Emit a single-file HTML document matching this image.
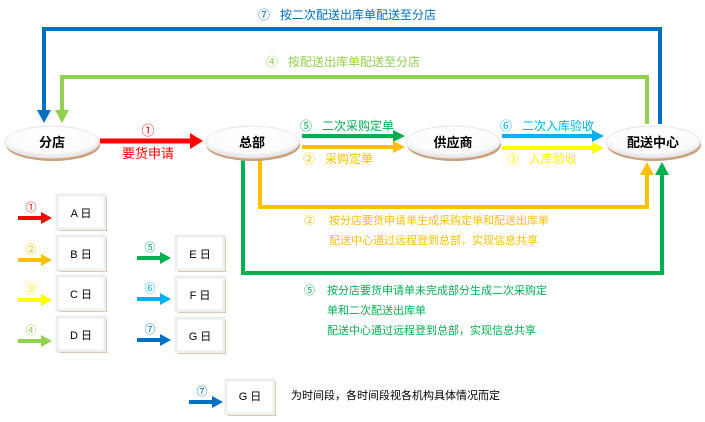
<!DOCTYPE html>
<html><head><meta charset="utf-8">
<style>
html,body{margin:0;padding:0;background:#fff;}
svg{display:block;}
text{font-family:"Liberation Sans","Noto Sans CJK SC","WenQuanYi Zen Hei",sans-serif;}
</style></head>
<body>
<svg width="705" height="422" viewBox="0 0 705 422" xmlns="http://www.w3.org/2000/svg">
<defs>
<radialGradient id="eg" cx="50%" cy="35%" r="60%">
<stop offset="0" stop-color="#ffffff"/><stop offset="0.8" stop-color="#fbfbfb"/><stop offset="1" stop-color="#e8e8e8"/>
</radialGradient>
</defs>

<!-- top blue loop -->
<polyline points="44,112 44,29 660,29 660,124" fill="none" stroke="#0070c0" stroke-width="4"/>
<polygon points="37,110 51,110 44,123" fill="#0070c0"/>
<text x="258" y="19" font-size="12" fill="#0070c0">⑦&#160;&#160;&#160;按二次配送出库单配送至分店</text>

<!-- light green loop -->
<polyline points="62,112 62,77 647,77 647,124" fill="none" stroke="#92d050" stroke-width="4"/>
<polygon points="55,110 69,110 62,123" fill="#92d050"/>
<text x="266" y="66" font-size="12" fill="#92d050">④&#160;&#160;&#160;按配送出库单配送至分店</text>

<!-- orange loop -->
<polyline points="260,160 260,207 647,207 647,174" fill="none" stroke="#ffc000" stroke-width="4"/>
<polygon points="640,175 654,175 647,162" fill="#ffc000"/>
<!-- green loop -->
<polyline points="243,160 243,273 662,273 662,174" fill="none" stroke="#00b050" stroke-width="4"/>
<polygon points="655,175 669,175 662,162" fill="#00b050"/>

<!-- ellipses -->
<g>
<ellipse cx="53" cy="145" rx="47" ry="16" fill="#c9a27e"/>
<ellipse cx="52" cy="142" rx="47" ry="16" fill="url(#eg)" stroke="#e6e6e6"/>
<text x="52" y="147" font-size="13" font-weight="bold" text-anchor="middle">分店</text>

<ellipse cx="253" cy="145" rx="47" ry="16" fill="#c9a27e"/>
<ellipse cx="252" cy="142" rx="47" ry="16" fill="url(#eg)" stroke="#e6e6e6"/>
<text x="252" y="147" font-size="13" font-weight="bold" text-anchor="middle">总部</text>

<ellipse cx="454" cy="145" rx="47" ry="16" fill="#c9a27e"/>
<ellipse cx="453" cy="142" rx="47" ry="16" fill="url(#eg)" stroke="#e6e6e6"/>
<text x="453" y="147" font-size="13" font-weight="bold" text-anchor="middle">供应商</text>

<ellipse cx="654" cy="145" rx="47" ry="16" fill="#c9a27e"/>
<ellipse cx="653" cy="142" rx="47" ry="16" fill="url(#eg)" stroke="#e6e6e6"/>
<text x="653" y="147" font-size="13" font-weight="bold" text-anchor="middle">配送中心</text>
</g>

<!-- red arrow -->
<line x1="100" y1="141" x2="192" y2="141" stroke="#ff0000" stroke-width="5"/>
<polygon points="190,133 203,141 190,149" fill="#ff0000"/>
<text x="148" y="135" font-size="13" fill="#ff0000" text-anchor="middle">①</text>
<text x="148" y="158" font-size="13" fill="#ff0000" text-anchor="middle">要货申请</text>

<!-- green / orange to supplier -->
<line x1="302" y1="136" x2="395" y2="136" stroke="#00b050" stroke-width="4"/>
<polygon points="393,130 405,136 393,142" fill="#00b050"/>
<line x1="302" y1="147" x2="395" y2="147" stroke="#ffc000" stroke-width="4"/>
<polygon points="393,141 405,147 393,153" fill="#ffc000"/>
<text x="300" y="130" font-size="12" fill="#00b050">⑤&#160;&#160;&#160;二次采购定单</text>
<text x="303" y="163" font-size="12" fill="#ffc000">②&#160;&#160;&#160;采购定单</text>

<!-- blue/yellow to DC -->
<line x1="502" y1="136" x2="594" y2="136" stroke="#00b0f0" stroke-width="4"/>
<polygon points="592,130 604,136 592,142" fill="#00b0f0"/>
<line x1="502" y1="148" x2="594" y2="148" stroke="#ffff00" stroke-width="4"/>
<polygon points="592,142 604,148 592,154" fill="#ffff00"/>
<text x="500" y="130" font-size="12" fill="#00b0f0">⑥&#160;&#160;&#160;二次入库验收</text>
<text x="507" y="163" font-size="12" fill="#ffff00">③&#160;&#160;&#160;入库验收</text>

<!-- descriptions -->
<text x="304" y="224" font-size="11" fill="#ffc000">②</text>
<text x="329" y="224" font-size="11" fill="#ffc000">按分店要货申请单生成采购定单和配送出库单</text>
<text x="329" y="244" font-size="11" fill="#ffc000">配送中心通过远程登到总部，实现信息共享</text>
<text x="304" y="294" font-size="11" fill="#00b050">⑤</text>
<text x="327" y="294" font-size="11" fill="#00b050">按分店要货申请单未完成部分生成二次采购定</text>
<text x="327" y="314" font-size="11" fill="#00b050">单和二次配送出库单</text>
<text x="327" y="334" font-size="11" fill="#00b050">配送中心通过远程登到总部，实现信息共享</text>

<!-- legend -->
<g font-size="11">
<!-- box template: x,y -->
<g id="bx">
</g>
</g>
<g>
<rect x="59" y="197" width="48" height="34" fill="#c9a27e"/>
<rect x="57" y="195" width="48" height="34" fill="#fff" stroke="#eeeeee" stroke-width="3"/>
<text x="81" y="217" font-size="11" text-anchor="middle">A 日</text>
<rect x="59" y="238" width="48" height="34" fill="#c9a27e"/>
<rect x="57" y="236" width="48" height="34" fill="#fff" stroke="#eeeeee" stroke-width="3"/>
<text x="81" y="258" font-size="11" text-anchor="middle">B 日</text>
<rect x="59" y="278" width="48" height="34" fill="#c9a27e"/>
<rect x="57" y="276" width="48" height="34" fill="#fff" stroke="#eeeeee" stroke-width="3"/>
<text x="81" y="298" font-size="11" text-anchor="middle">C 日</text>
<rect x="59" y="319" width="48" height="34" fill="#c9a27e"/>
<rect x="57" y="317" width="48" height="34" fill="#fff" stroke="#eeeeee" stroke-width="3"/>
<text x="81" y="339" font-size="11" text-anchor="middle">D 日</text>

<rect x="178" y="238" width="48" height="34" fill="#c9a27e"/>
<rect x="176" y="236" width="48" height="34" fill="#fff" stroke="#eeeeee" stroke-width="3"/>
<text x="200" y="258" font-size="11" text-anchor="middle">E 日</text>
<rect x="178" y="279" width="48" height="34" fill="#c9a27e"/>
<rect x="176" y="277" width="48" height="34" fill="#fff" stroke="#eeeeee" stroke-width="3"/>
<text x="200" y="299" font-size="11" text-anchor="middle">F 日</text>
<rect x="178" y="320" width="48" height="34" fill="#c9a27e"/>
<rect x="176" y="318" width="48" height="34" fill="#fff" stroke="#eeeeee" stroke-width="3"/>
<text x="200" y="340" font-size="11" text-anchor="middle">G 日</text>

<rect x="228" y="382" width="48" height="34" fill="#c9a27e"/>
<rect x="226" y="380" width="48" height="34" fill="#fff" stroke="#eeeeee" stroke-width="3"/>
<text x="250" y="400" font-size="11" text-anchor="middle">G 日</text>
</g>

<!-- legend arrows -->
<g>
<line x1="18" y1="218" x2="42" y2="218" stroke="#ff0000" stroke-width="4"/><polygon points="41,212 52,218 41,224" fill="#ff0000"/>
<text x="31" y="211" font-size="11" fill="#ff0000" text-anchor="middle">①</text>
<line x1="18" y1="260" x2="42" y2="260" stroke="#ffc000" stroke-width="4"/><polygon points="41,254 52,260 41,266" fill="#ffc000"/>
<text x="31" y="253" font-size="11" fill="#ffc000" text-anchor="middle">②</text>
<line x1="18" y1="300" x2="42" y2="300" stroke="#ffff00" stroke-width="4"/><polygon points="41,294 52,300 41,306" fill="#ffff00"/>
<text x="31" y="293" font-size="11" fill="#ffff00" text-anchor="middle">③</text>
<line x1="18" y1="341" x2="42" y2="341" stroke="#92d050" stroke-width="4"/><polygon points="41,335 52,341 41,347" fill="#92d050"/>
<text x="31" y="334" font-size="11" fill="#92d050" text-anchor="middle">④</text>

<line x1="137" y1="258" x2="161" y2="258" stroke="#00b050" stroke-width="4"/><polygon points="160,252 171,258 160,264" fill="#00b050"/>
<text x="150" y="251" font-size="11" fill="#00b050" text-anchor="middle">⑤</text>
<line x1="137" y1="299" x2="161" y2="299" stroke="#00b0f0" stroke-width="4"/><polygon points="160,293 171,299 160,305" fill="#00b0f0"/>
<text x="150" y="292" font-size="11" fill="#00b0f0" text-anchor="middle">⑥</text>
<line x1="137" y1="340" x2="161" y2="340" stroke="#0070c0" stroke-width="4"/><polygon points="160,334 171,340 160,346" fill="#0070c0"/>
<text x="150" y="333" font-size="11" fill="#0070c0" text-anchor="middle">⑦</text>

<line x1="189" y1="402" x2="213" y2="402" stroke="#0070c0" stroke-width="4"/><polygon points="212,396 223,402 212,408" fill="#0070c0"/>
<text x="202" y="395" font-size="11" fill="#0070c0" text-anchor="middle">⑦</text>
</g>

<text x="291" y="399" font-size="11" fill="#000">为时间段，各时间段视各机构具体情况而定</text>
</svg>
</body></html>
